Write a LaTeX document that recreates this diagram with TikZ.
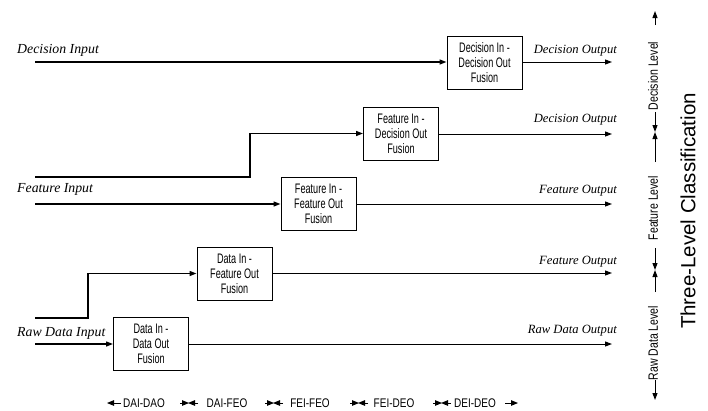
\documentclass[tikz,border=0pt]{standalone}
\usepackage{fontspec}
\setmainfont{Liberation Serif}
\newfontfamily\boxfont[FakeStretch=0.66]{Liberation Sans}
\newfontfamily\axfont[FakeStretch=0.78]{Liberation Sans}
\newfontfamily\legfont[FakeStretch=0.8]{Liberation Sans}
\newfontfamily\titlefont{Liberation Sans}
\usetikzlibrary{arrows.meta}
\tikzset{
  fusion/.style={draw, line width=1pt, minimum width=75pt, minimum height=53pt, inner sep=0pt,
    align=center, font=\boxfont\fontsize{13.8}{15}\selectfont},
  inlabel/.style={anchor=west, inner sep=0pt, font=\itshape\fontsize{13.8}{16}\selectfont},
  outlabel/.style={anchor=east, inner sep=0pt, font=\itshape\fontsize{12.6}{15}\selectfont},
  inline/.style={line width=1.3pt, -{Triangle[length=7pt,width=5pt]}},
  outline/.style={line width=1pt, -{Triangle[length=7pt,width=5pt]}},
  axarrow/.style={line width=1pt, -{Triangle[length=7pt,width=5pt]}},
  axlabel/.style={rotate=90, inner sep=0pt, font=\axfont\fontsize{13.5}{15}\selectfont},
  legarrow/.style={line width=1pt, -{Triangle[length=7pt,width=5.5pt]}},
  leglabel/.style={inner sep=0pt, font=\legfont\fontsize{12.5}{14}\selectfont},
}
\begin{document}
\begin{tikzpicture}[x=1pt,y=-1pt]
\useasboundingbox (0,0) rectangle (708,410);

% fusion boxes
\node[fusion] (dido) at (484.5,62.5) {Decision In -\\Decision Out\\Fusion};
\node[fusion] (fido) at (401,133.5) {Feature In -\\Decision Out\\Fusion};
\node[fusion] (fifo) at (318.5,203.5) {Feature In -\\Feature Out\\Fusion};
\node[fusion] (difo) at (234.5,273.5) {Data In -\\Feature Out\\Fusion};
\node[fusion] (dado) at (151,343.5) {Data In -\\Data Out\\Fusion};

% input labels
\node[inlabel] (lDI) at (17,50) {Decision Input};
\node[inlabel] (lFI) at (17,189) {Feature Input};
\node[inlabel] (lRI) at (17,333) {Raw Data Input};

% output labels
\node[outlabel] (lDO1) at (617,51) {Decision Output};
\node[outlabel] (lDO2) at (617,120) {Decision Output};
\node[outlabel] (lFO1) at (617,191) {Feature Output};
\node[outlabel] (lFO2) at (617,262) {Feature Output};
\node[outlabel] (lRO) at (617,331) {Raw Data Output};

% input start points
\coordinate (s1) at (35,62);
\coordinate (s2) at (35,177);
\coordinate (k2) at (250,177);
\coordinate (s3) at (35,204);
\coordinate (s4) at (35,318);
\coordinate (k4) at (88,318);
\coordinate (s5) at (35,344);

% output end points
\coordinate (e1) at (612,62);
\coordinate (e2) at (612,134);
\coordinate (e3) at (612,204);
\coordinate (e4) at (612,273);
\coordinate (e5) at (612,344);

% inputs
\draw[inline] (s1) -- (dido.west |- s1);
\draw[inline] (s2) -- (k2) |- (fido.west);
\draw[inline] (s3) -- (fifo.west |- s3);
\draw[inline] (s4) -- (k4) |- (difo.west);
\draw[inline] (s5) -- (dado.west |- s5);

% outputs
\draw[outline] (dido.east |- e1) -- (e1);
\draw[outline] (fido.east |- e2) -- (e2);
\draw[outline] (fifo.east |- e3) -- (e3);
\draw[outline] (difo.east |- e4) -- (e4);
\draw[outline] (dado.east |- e5) -- (e5);

% right axis
\coordinate (a0) at (655,25);  \coordinate (t0) at (655,11);
\coordinate (a1) at (655,112); \coordinate (t1) at (655,132);
\coordinate (a2) at (655,162); \coordinate (t2) at (655,132);
\coordinate (a3) at (655,248); \coordinate (t3) at (655,270);
\coordinate (a4) at (655,292); \coordinate (t4) at (655,270);
\coordinate (a5) at (655,380); \coordinate (t5) at (655,400);
\draw[axarrow] (a0) -- (t0);
\draw[axarrow] (a1) -- (t1);
\draw[axarrow] (a2) -- (t2);
\draw[axarrow] (a3) -- (t3);
\draw[axarrow] (a4) -- (t4);
\draw[axarrow] (a5) -- (t5);
\node[axlabel] (lvD) at (653,76) {Decision Level};
\node[axlabel] (lvF) at (653,208) {Feature Level};
\node[axlabel] (lvR) at (653,343) {Raw Data Level};

\node[rotate=90, inner sep=0pt, font=\titlefont\fontsize{20.5}{24}\selectfont] (title) at (688,211) {Three-Level Classification};

% bottom legend
\coordinate (b0s) at (121,403); \coordinate (b0t) at (107,403);
\coordinate (b1s) at (180,403); \coordinate (b1t) at (189,403);
\coordinate (b1u) at (198,403); \coordinate (b1v) at (188,403);
\coordinate (b2s) at (265,403); \coordinate (b2t) at (274,403);
\coordinate (b2u) at (283,403); \coordinate (b2v) at (273,403);
\coordinate (b3s) at (350,403); \coordinate (b3t) at (359,403);
\coordinate (b3u) at (368,403); \coordinate (b3v) at (358,403);
\coordinate (b4s) at (433,403); \coordinate (b4t) at (442,403);
\coordinate (b4u) at (451,403); \coordinate (b4v) at (441,403);
\coordinate (b5s) at (505,403); \coordinate (b5t) at (518,403);
\draw[legarrow] (b0s) -- (b0t);
\draw[legarrow] (b1s) -- (b1t);
\draw[legarrow] (b1u) -- (b1v);
\draw[legarrow] (b2s) -- (b2t);
\draw[legarrow] (b2u) -- (b2v);
\draw[legarrow] (b3s) -- (b3t);
\draw[legarrow] (b3u) -- (b3v);
\draw[legarrow] (b4s) -- (b4t);
\draw[legarrow] (b4u) -- (b4v);
\draw[legarrow] (b5s) -- (b5t);
\node[leglabel] (g1) at (144,403) {DAI-DAO};
\node[leglabel] (g2) at (227,403) {DAI-FEO};
\node[leglabel] (g3) at (310,403) {FEI-FEO};
\node[leglabel] (g4) at (394,403) {FEI-DEO};
\node[leglabel] (g5) at (475,403) {DEI-DEO};
\end{tikzpicture}
\end{document}
